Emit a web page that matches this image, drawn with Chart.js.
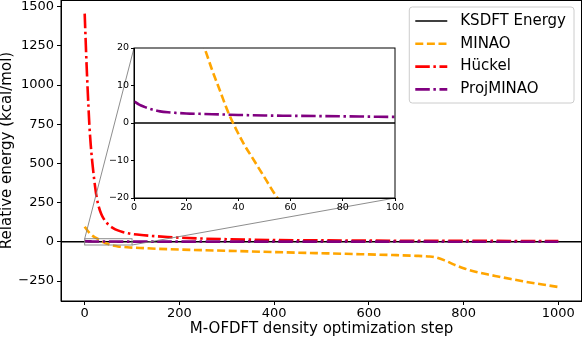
<!DOCTYPE html>
<html><head><meta charset="utf-8">
<script src="https://cdn.jsdelivr.net/npm/chart.js@4.4.0/dist/chart.umd.min.js"></script>
<style>
html,body{margin:0;padding:0;background:#fff;}
#wrap{position:relative;width:582px;height:338px;overflow:hidden;}
#main{position:absolute;left:0;top:0;}
#inset{position:absolute;left:104px;top:40px;}
</style></head><body>
<div id="wrap"><canvas id="main" width="582" height="338"></canvas><canvas id="inset" width="300" height="175"></canvas></div>
<script>
// ---- tick labels ----
const xTicks = [0, 200, 400, 600, 800, 1000];
const yTicks = [-250, 0, 250, 500, 750, 1000, 1250, 1500];
const insetXTicks = [0, 20, 40, 60, 80, 100];
const insetYTicks = [-20, -10, 0, 10, 20];

// ---- series ----
const seriesNames = ['KSDFT Energy', 'MINAO', 'H\u00fcckel', 'ProjMINAO'];
const ksdftSteps = [-50, 1050];
const ksdftEnergy = [0, 0];

const minaoSteps = [0, 5, 10, 15, 20, 27, 30, 33, 36, 39, 42, 46, 50, 55, 62, 70, 80, 90, 100, 125, 150, 175, 200, 250, 300, 350, 400, 450, 500, 550, 600, 650, 700, 725, 740, 760, 780, 800, 825, 850, 875, 900, 925, 950, 975, 1000];
const minaoEnergy = [97, 76, 58, 43, 32, 20, 14, 8.5, 3, -1.5, -5.5, -10, -14.5, -20, -25, -29, -32, -34.5, -36.5, -40, -43.5, -46.5, -49, -53, -57, -61, -65, -69, -72.5, -76, -80, -84, -89, -93, -98, -118, -145, -168, -190, -207, -222, -237, -251, -264, -276, -288];

const huckelSteps = [0, 2, 4, 6, 8, 10, 13, 16, 20, 25, 30, 35, 40, 50, 60, 70, 80, 90, 100, 125, 150, 175, 200, 250, 300, 350, 400, 450, 500, 600, 700, 800, 900, 1000];
const huckelEnergy = [1455, 1290, 1130, 990, 860, 740, 610, 510, 400, 290, 222, 178, 148, 110, 88, 73, 63, 56, 50, 42, 36, 31, 27, 21, 17, 14, 12, 10.5, 9.5, 8, 7, 6.5, 6, 5.5];

const projSteps = [0, 2, 4, 6, 8, 10, 13, 16, 20, 25, 30, 35, 40, 50, 60, 70, 80, 90, 100, 150, 200, 300, 400, 500, 600, 700, 800, 900, 1000];
const projEnergy = [5.8, 4.9, 4.3, 3.8, 3.4, 3.1, 2.85, 2.7, 2.55, 2.45, 2.35, 2.25, 2.15, 2.0, 1.92, 1.85, 1.78, 1.7, 1.62, 1.5, 1.45, 1.4, 1.35, 1.3, 1.3, 1.25, 1.2, 1.2, 1.2];

const F = "'DejaVu Sans', sans-serif";
const pts = (xs, ys) => xs.map((x, i) => ({x: x, y: ys[i]}));
const fmt = v => (v < 0 ? '\u2212' + Math.abs(v) : String(v));

function makeDatasets(clip) {
  const base = {pointRadius: 0, fill: false, cubicInterpolationMode: 'monotone', borderCapStyle: 'butt'};
  if (clip !== undefined) base.clip = clip;
  return [
    Object.assign({}, base, {label: seriesNames[0], data: pts(ksdftSteps, ksdftEnergy), borderColor: '#000000', borderWidth: 1.5, borderDash: [], order: 3, cubicInterpolationMode: 'default'}),
    Object.assign({}, base, {label: seriesNames[1], data: pts(minaoSteps, minaoEnergy), borderColor: '#FFA500', borderWidth: 2.6, borderDash: [8, 3.6], order: 2}),
    Object.assign({}, base, {label: seriesNames[2], data: pts(huckelSteps, huckelEnergy), borderColor: '#FF0000', borderWidth: 2.6, borderDash: [14.5, 3.6, 2.5, 3.6], order: 1}),
    Object.assign({}, base, {label: seriesNames[3], data: pts(projSteps, projEnergy), borderColor: '#800080', borderWidth: 2.6, borderDash: [14.5, 3.6, 2.5, 3.6], order: 0})
  ];
}

// ---- inset chart ----
const insetCanvas = document.getElementById('inset');
const insetPlugin = {
  id: 'insetFrame',
  beforeDraw(chart) {
    const a = chart.chartArea, c = chart.ctx;
    c.save(); c.fillStyle = '#fff'; c.fillRect(a.left, a.top, a.right - a.left, a.bottom - a.top); c.restore();
  },
  afterDraw(chart) {
    const a = chart.chartArea, c = chart.ctx;
    c.save(); c.strokeStyle = '#000'; c.lineWidth = 1;
    c.strokeRect(a.left, a.top, a.right - a.left, a.bottom - a.top); c.restore();
  }
};
const insetChart = new Chart(insetCanvas, {
  type: 'line',
  data: {datasets: makeDatasets(0)},
  options: {
    responsive: false, animation: false, events: [],
    layout: {padding: {top: 8, right: 9, left: 0, bottom: 0}},
    elements: {line: {capBezierPoints: false}},
    plugins: {legend: {display: false}, tooltip: {enabled: false}},
    scales: {
      x: {type: 'linear', min: 0, max: 100,
        afterBuildTicks: s => { s.ticks = insetXTicks.map(v => ({value: v})); },
        afterFit: s => { s.height = 17; s.paddingLeft = 0; s.paddingRight = 0; },
        grid: {display: true, drawOnChartArea: false, tickLength: 3, color: '#000', lineWidth: 1},
        border: {display: true, color: '#000', width: 1},
        ticks: {font: {family: F, size: 9.5}, color: '#000', padding: 1, maxRotation: 0, autoSkip: false, callback: v => fmt(v)}
      },
      y: {type: 'linear', min: -20, max: 20,
        afterBuildTicks: s => { s.ticks = insetYTicks.map(v => ({value: v})); },
        afterFit: s => { s.width = 30; s.paddingTop = 0; s.paddingBottom = 0; },
        grid: {display: true, drawOnChartArea: false, tickLength: 3, color: '#000', lineWidth: 1},
        border: {display: true, color: '#000', width: 1},
        ticks: {font: {family: F, size: 9.5}, color: '#000', padding: 2, autoSkip: false, callback: v => fmt(v)}
      }
    }
  },
  plugins: [insetPlugin]
});

// ---- main chart ----
const mainPlugin = {
  id: 'mainExtras',
  afterDraw(chart) {
    const a = chart.chartArea, c = chart.ctx;
    const xs = chart.scales.x, ys = chart.scales.y;
    c.save();
    // frame
    c.strokeStyle = '#000'; c.lineWidth = 1;
    c.strokeRect(a.left, a.top + 0.5, a.right - a.left - 0.5, a.bottom - a.top - 0.5);
    // zoom rectangle & connectors
    const ix = insetChart.scales.x, iy = insetChart.scales.y;
    const x0 = xs.getPixelForValue(ix.min), x1 = xs.getPixelForValue(ix.max);
    const y0 = ys.getPixelForValue(iy.max), y1 = ys.getPixelForValue(iy.min);
    c.strokeStyle = '#808080'; c.lineWidth = 0.9;
    c.strokeRect(x0, y0, x1 - x0, y1 - y0);
    const ia = insetChart.chartArea, ox = insetCanvas.offsetLeft, oy = insetCanvas.offsetTop;
    c.beginPath();
    c.moveTo(x0, y0); c.lineTo(ox + ia.left, oy + ia.top);
    c.moveTo(x1, y1); c.lineTo(ox + ia.right, oy + ia.bottom);
    c.stroke();
    // legend
    c.font = '15px ' + F;
    const ds = chart.data.datasets;
    let tw = 0; ds.forEach(d => { tw = Math.max(tw, c.measureText(d.label).width); });
    const bw = 51 + tw + 8, bh = 96;
    const bx = a.right - 8 - bw, by = a.top + 7;
    c.beginPath();
    if (c.roundRect) c.roundRect(bx, by, bw, bh, 3); else c.rect(bx, by, bw, bh);
    c.fillStyle = 'rgba(255,255,255,0.8)'; c.fill();
    c.strokeStyle = '#cccccc'; c.lineWidth = 1; c.stroke();
    ds.forEach((d, i) => {
      const ry = by + 14 + i * 22.8;
      c.beginPath(); c.setLineDash(d.borderDash || []);
      c.strokeStyle = d.borderColor; c.lineWidth = i === 0 ? 1.3 : d.borderWidth;
      c.moveTo(bx + 6, ry); c.lineTo(bx + 38, ry); c.stroke();
      c.setLineDash([]);
      c.fillStyle = '#000'; c.textBaseline = 'middle'; c.textAlign = 'left';
      c.fillText(d.label, bx + 51, ry);
    });
    c.restore();
  }
};

new Chart(document.getElementById('main'), {
  type: 'line',
  data: {datasets: makeDatasets()},
  options: {
    responsive: false, animation: false, events: [],
    layout: {padding: 0},
    plugins: {legend: {display: false}, tooltip: {enabled: false}},
    scales: {
      x: {type: 'linear', min: -50, max: 1050,
        afterBuildTicks: s => { s.ticks = xTicks.map(v => ({value: v})); },
        afterFit: s => { s.height = 37; s.paddingLeft = 0; s.paddingRight = 0; },
        grid: {display: true, drawOnChartArea: false, tickLength: 4, color: '#000', lineWidth: 1},
        border: {display: true, color: '#000', width: 1},
        ticks: {font: {family: F, size: 13}, color: '#000', padding: 1, maxRotation: 0, autoSkip: false, callback: v => fmt(v)},
        title: {display: true, text: 'M-OFDFT density optimization step', font: {family: F, size: 15, lineHeight: 1.2}, color: '#000', padding: 0}
      },
      y: {type: 'linear', min: -377, max: 1542,
        afterBuildTicks: s => { s.ticks = yTicks.map(v => ({value: v})); },
        afterFit: s => { s.width = 61; s.paddingTop = 0; s.paddingBottom = 0; },
        grid: {display: true, drawOnChartArea: false, tickLength: 4, color: '#000', lineWidth: 1},
        border: {display: true, color: '#000', width: 1},
        ticks: {font: {family: F, size: 13}, color: '#000', padding: 3, autoSkip: false, callback: v => fmt(v)},
        title: {display: true, text: 'Relative energy (kcal/mol)', font: {family: F, size: 15, lineHeight: 1.0}, color: '#000', padding: 0}
      }
    }
  },
  plugins: [mainPlugin]
});
</script>
</body></html>
